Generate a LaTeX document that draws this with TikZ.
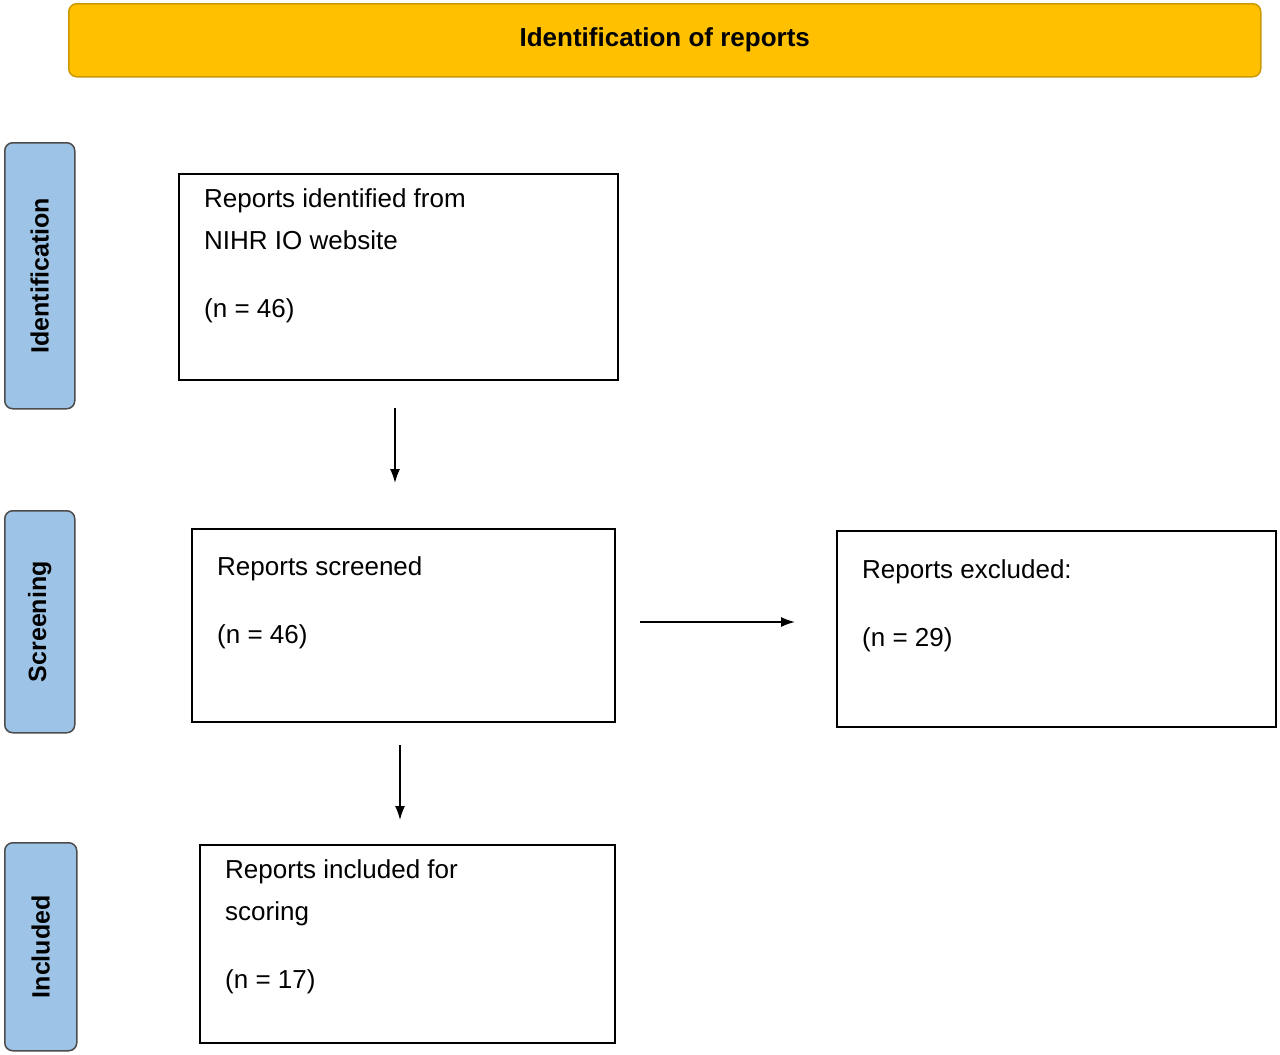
\documentclass[tikz,border=0pt]{standalone}
\usepackage{fontspec}
\setmainfont{Liberation Sans}
\begin{document}
\begin{tikzpicture}[x=1pt,y=-1pt,
  box/.style={draw=black,line width=1.5pt,anchor=north west,inner sep=0pt},
  txt/.style={anchor=north west,inner sep=0pt,font=\fontsize{26}{42}\selectfont,align=left},
  tab/.style={draw=black!70,fill=blue!20!cyan!30!white,fill=tabblue,line width=1.5pt,rounded corners=8pt,anchor=north west,inner sep=0pt},
  tabtxt/.style={rotate=90,font=\bfseries\fontsize{25}{30}\selectfont},
  arr/.style={-{Latex[length=14pt,width=10pt]},line width=1.5pt}]
\definecolor{tabblue}{HTML}{9DC3E6}
\definecolor{banner}{HTML}{FFC000}
\usetikzlibrary{arrows.meta}
\useasboundingbox (0,0) rectangle (1280,1055);
\node[draw=banner!80!black,fill=banner,line width=1.5pt,rounded corners=8pt,anchor=north west,inner sep=0pt,minimum width=1192pt,minimum height=73pt] (ban) at (68,3) {};
\node[font=\bfseries\fontsize{26}{30}\selectfont] at (ban.center) {Identification of reports};
\node[tab,minimum width=70pt,minimum height=266pt] (t1) at (4,142) {};
\node[tabtxt] at (t1.center) {Identification};
\node[tab,minimum width=70pt,minimum height=222pt] (t2) at (4,510) {};
\node[tabtxt] at (t2.center) {Screening};
\node[tab,minimum width=72pt,minimum height=208pt] (t3) at (4,842) {};
\node[tabtxt] at (t3.center) {Included};
\node[box,minimum width=439pt,minimum height=206pt] (a) at (178,173) {};
\node[txt] at (204,188) {Reports identified from\\NIHR IO website\\[26pt](n = 46)};
\node[box,minimum width=423pt,minimum height=193pt] (b) at (191,528) {};
\node[txt] at (217,556) {Reports screened\\[26pt](n = 46)};
\node[box,minimum width=439pt,minimum height=196pt] (c) at (836,530) {};
\node[txt] at (862,559) {Reports excluded:\\[26pt](n = 29)};
\node[box,minimum width=415pt,minimum height=198pt] (d) at (199,844) {};
\node[txt] at (225,859) {Reports included for\\scoring\\[26pt](n = 17)};
\coordinate (a1) at (395,408); \coordinate (a2) at (395,483);
\coordinate (b1) at (400,745); \coordinate (b2) at (400,820);
\coordinate (c1) at (640,622); \coordinate (c2) at (795,622);
\draw[arr] (a1) -- (a2);
\draw[arr] (b1) -- (b2);
\draw[arr] (c1) -- (c2);
\end{tikzpicture}
\end{document}
